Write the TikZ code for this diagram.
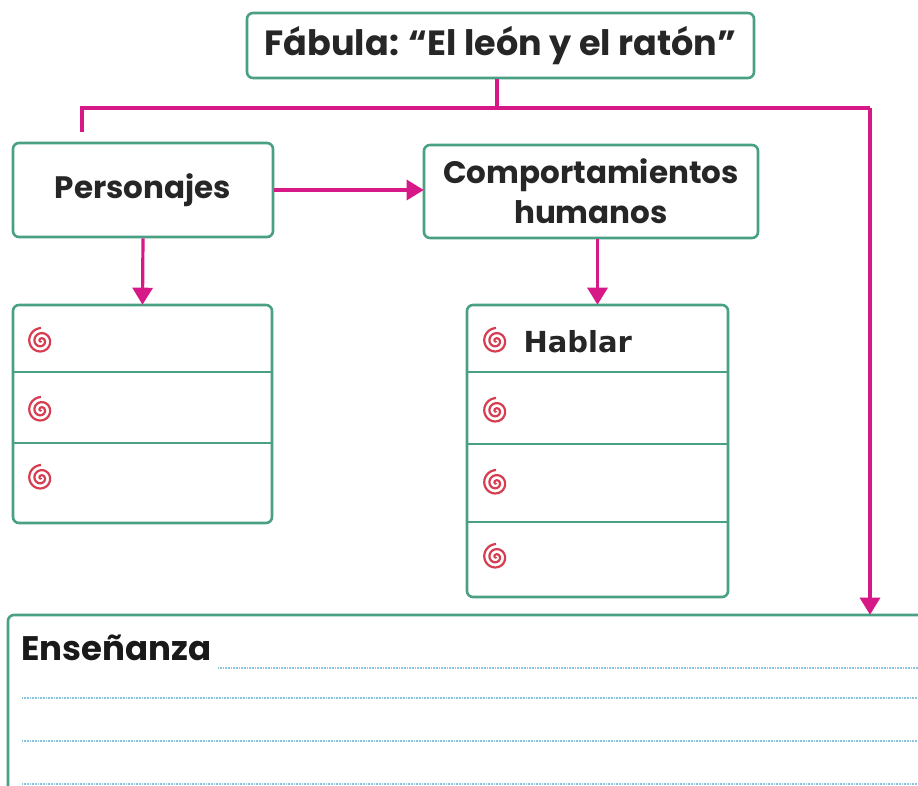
\documentclass[tikz,border=0pt]{standalone}
\usepackage{fontspec}
\setmainfont{Poppins}
\newfontfamily\handfont{DejaVu Sans}
\usetikzlibrary{arrows.meta,positioning}

\definecolor{boxgreen}{RGB}{74,160,130}
\definecolor{linkpink}{RGB}{215,25,135}
\definecolor{spiralred}{RGB}{215,60,80}
\definecolor{dotblue}{RGB}{140,195,222}

\tikzset{
  box/.style={draw=boxgreen, line width=2.6pt, rounded corners=6pt, fill=white,
    text=black!85, font=\bfseries\fontsize{31}{40}\selectfont, align=center},
  link/.style={draw=linkpink, line width=3.2pt},
  tolink/.style={link, -{Triangle[width=20pt,length=17pt]}, shorten >=-1pt},
  row/.style={draw=boxgreen, line width=2pt},
  dotline/.style={draw=dotblue, line width=2.4pt, dash pattern=on 0.8pt off 0.8pt},
  spiral/.pic={
    \draw[spiralred, line width=2.2pt, domain=0:900, samples=120, variable=\t]
      plot ({\t+90}:{\t/900*13});
  }
}

\begin{document}
\begin{tikzpicture}[x=1pt, y=-1pt]
  \useasboundingbox (0,0) rectangle (918,785);
  \clip (0,0) rectangle (918,785);

  % main boxes
  \node[box, minimum width=507pt, minimum height=65pt, font=\bfseries\fontsize{35}{40}\selectfont]
    (title) at (500.5,45.5) {F\'abula: ``El le\'on y el rat\'on''};
  \node[box, minimum width=260pt, minimum height=94pt] (pers) at (143,190) {Personajes};
  \node[box, minimum width=334pt, minimum height=93pt] (comp) at (591,191.5)
    {Comportamientos\\humanos};

  % lists
  \node[box, minimum width=259pt, minimum height=218pt] (perslist) at (142.5,414) {};
  \node[box, minimum width=261pt, minimum height=292pt] (complist) at (597.5,451) {};
  \foreach \y in {372,443}
    \draw[row] (perslist.west|-0,\y) -- (perslist.east|-0,\y);
  \foreach \y in {372,444,522}
    \draw[row] (complist.west|-0,\y) -- (complist.east|-0,\y);
  \foreach \y in {341,410,478}
    \pic at (41,\y) {spiral};
  \foreach \y in {341,411,483,557}
    \pic at (496,\y) {spiral};
  \node[anchor=west, font=\handfont\bfseries\fontsize{29}{34}\selectfont, text=black!85]
    (hablar) at (520,342) {Hablar};

  % ensenanza
  \node[box, minimum width=922pt, minimum height=185pt] (ense) at (469,707.5) {};
  \node[anchor=base west, font=\bfseries\fontsize{34}{40}\selectfont, text=black!90]
    (enselabel) at (18,660) {Ense\~nanza};
  \draw[dotline] (enselabel.base east) ++(3pt,-8pt) coordinate (d0) -- (d0-|918,0);
  \foreach \y in {698,741,784}
    \draw[dotline] (22,\y) -- (918,\y);

  % connectors
  \coordinate (hub) at (497,108);
  \coordinate (jl) at (82,108);
  \coordinate (jr) at (870,108);
  \coordinate (stub) at (82,132);
  \draw[link] (title.south-|hub) -- (hub);
  \draw[link] (stub) -- (jl) -- (jr);
  \draw[tolink] (jr) -- (jr|-ense.north);
  \draw[tolink] (pers.east) -- (pers.east-|comp.west);
  \draw[tolink] (pers.south) -- (perslist.north);
  \draw[tolink] (comp.south-|complist.north) -- (complist.north);
\end{tikzpicture}
\end{document}
